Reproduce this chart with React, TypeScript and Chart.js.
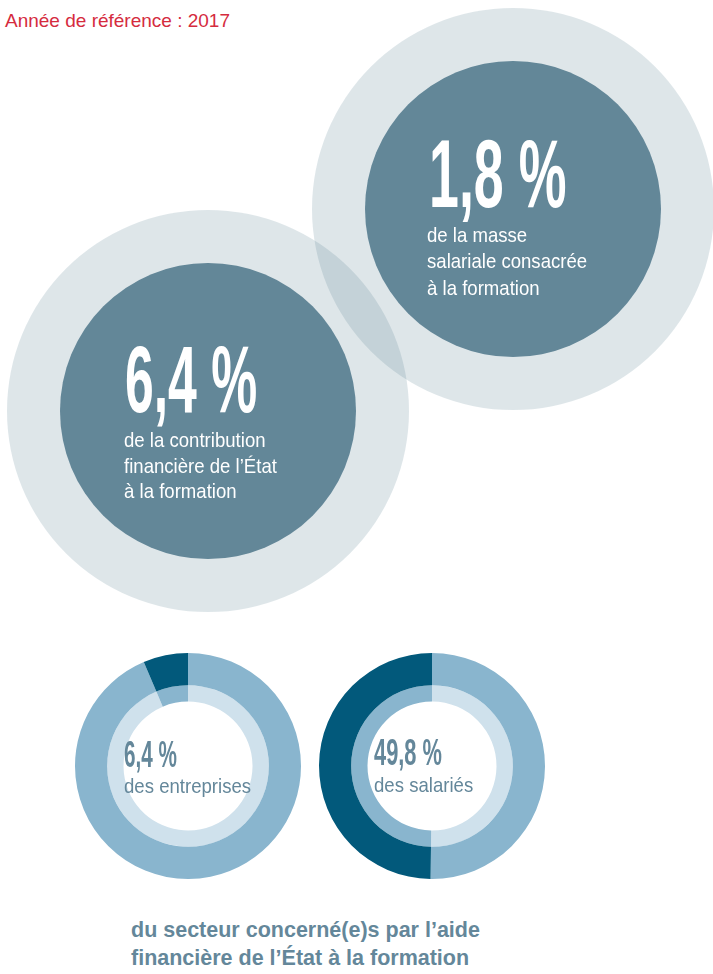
import React, { useEffect, useRef } from "react";
import { Chart, registerables } from "chart.js";

Chart.register(...registerables);

// ---- data ----
const headerText = "Année de référence : 2017";

const bubbleValues = ["1,8 %", "6,4 %"];
const bubbleLabels = [
  ["de la masse", "salariale consacrée", "à la formation"],
  ["de la contribution", "financière de l’État", "à la formation"],
];

const donutCategories = ["Non concerné(e)s", "Concerné(e)s"];
const entreprisesValues = [93.6, 6.4];
const salariesValues = [50.2, 49.8];
const donutNumbers = ["6,4 %", "49,8 %"];
const donutLabels = ["des entreprises", "des salariés"];

const captionLines = [
  "du secteur concerné(e)s par l’aide",
  "financière de l’État à la formation",
];

// ---- layout (not data) ----
const BUBBLE_X = [513, 208];
const BUBBLE_Y = [209, 411];
const HALO_R = 201;
const CORE_R = 148;

const CORE = "#638798";
const HALO = "rgba(99,135,152,0.21)";
const DARK = "#02597b";
const MID = "#89b5ce";
const LIGHT = "#cfe1ec";
const TEXT_TEAL = "#64879a";

const SANS = '"Liberation Sans", Arial, sans-serif';
const CONDENSE = 0.885;

function BubbleChart() {
  const ref = useRef<HTMLCanvasElement | null>(null);
  useEffect(() => {
    if (!ref.current) return;
    const chart = new Chart(ref.current, {
      type: "bubble",
      data: {
        datasets: [
          {
            label: "core",
            order: 0,
            data: BUBBLE_X.map((x, i) => ({ x, y: BUBBLE_Y[i], r: CORE_R })),
            backgroundColor: CORE,
            borderWidth: 0,
            clip: false as any,
          },
          {
            label: "halo",
            order: 1,
            data: BUBBLE_X.map((x, i) => ({ x, y: BUBBLE_Y[i], r: HALO_R })),
            backgroundColor: HALO,
            borderWidth: 0,
            clip: false as any,
          },
        ],
      },
      options: {
        responsive: false,
        animation: false,
        events: [],
        layout: { padding: 0, autoPadding: false },
        scales: {
          x: { display: false, min: 0, max: 713 },
          y: { display: false, min: 0, max: 640, reverse: true },
        },
        plugins: { legend: { display: false }, tooltip: { enabled: false } },
      } as any,
    });
    return () => chart.destroy();
  }, []);
  return (
    <canvas
      ref={ref}
      width={713}
      height={640}
      style={{ position: "absolute", left: 0, top: 0, width: 713, height: 640 }}
    />
  );
}

function Donut({ values, left, top }: { values: number[]; left: number; top: number }) {
  const ref = useRef<HTMLCanvasElement | null>(null);
  useEffect(() => {
    if (!ref.current) return;
    const chart = new Chart(ref.current, {
      type: "doughnut",
      data: {
        labels: donutCategories,
        datasets: [
          { data: values, backgroundColor: [MID, DARK], borderWidth: 0, weight: 29.5 },
          { data: values, backgroundColor: [LIGHT, MID], borderWidth: 0, weight: 15 },
        ],
      },
      options: {
        responsive: false,
        animation: false,
        events: [],
        radius: 113,
        cutout: 68.5,
        layout: { padding: 0, autoPadding: false },
        plugins: { legend: { display: false }, tooltip: { enabled: false } },
      } as any,
    });
    return () => chart.destroy();
  }, []);
  return (
    <canvas
      ref={ref}
      width={240}
      height={240}
      style={{ position: "absolute", left, top, width: 240, height: 240 }}
    />
  );
}

const abs = (left: number, top: number, extra: React.CSSProperties = {}): React.CSSProperties => ({
  position: "absolute",
  left,
  top,
  whiteSpace: "nowrap",
  margin: 0,
  ...extra,
});

function BigNumber({ text, left, top, size, color, scale }: any) {
  return (
    <div
      style={abs(left, top, {
        fontFamily: SANS,
        fontWeight: 700,
        fontSize: size,
        lineHeight: `${size}px`,
        color,
        transform: `scaleX(${scale})`,
        transformOrigin: "left top",
      })}
    >
      {text}
    </div>
  );
}

function Lines({ lines, left, top, size, lh, color, weight, scale }: any) {
  return (
    <div
      style={abs(left, top, {
        fontFamily: SANS,
        fontWeight: weight,
        fontSize: size,
        lineHeight: `${lh}px`,
        color,
        transform: `scaleX(${scale})`,
        transformOrigin: "left top",
      })}
    >
      {lines.map((l: string, i: number) => (
        <div key={i}>{l}</div>
      ))}
    </div>
  );
}

export default function App() {
  return (
    <div
      style={{
        position: "absolute",
        left: 0,
        top: 0,
        width: 713,
        height: 974,
        overflow: "hidden",
        background: "#ffffff",
      }}
    >
      <div style={abs(5, 11, { fontFamily: SANS, fontSize: 19, lineHeight: "19px", color: "#d52b3e" })}>
        {headerText}
      </div>

      <BubbleChart />

      <BigNumber text={bubbleValues[0]} left={429} top={126} size={96} color="#ffffff" scale={0.56} />
      <Lines lines={bubbleLabels[0]} left={427} top={221.5} size={21} lh={26.5} color="#ffffff" weight={400} scale={CONDENSE} />

      <BigNumber text={bubbleValues[1]} left={125} top={333} size={94} color="#ffffff" scale={0.55} />
      <Lines lines={bubbleLabels[1]} left={124} top={427} size={21} lh={25.5} color="#ffffff" weight={400} scale={CONDENSE} />

      <Donut values={entreprisesValues} left={68} top={645.5} />
      <Donut values={salariesValues} left={311.5} top={645.5} />

      <BigNumber text={donutNumbers[0]} left={124} top={736} size={37} color={TEXT_TEAL} scale={0.56} />
      <Lines lines={[donutLabels[0]]} left={124} top={775} size={21} lh={21} color={TEXT_TEAL} weight={400} scale={CONDENSE} />

      <BigNumber text={donutNumbers[1]} left={374} top={734} size={37} color={TEXT_TEAL} scale={0.59} />
      <Lines lines={[donutLabels[1]]} left={374} top={774} size={21} lh={21} color={TEXT_TEAL} weight={400} scale={CONDENSE} />

      <Lines lines={captionLines} left={131} top={915.5} size={21.5} lh={28} color={TEXT_TEAL} weight={700} scale={1} />
    </div>
  );
}
